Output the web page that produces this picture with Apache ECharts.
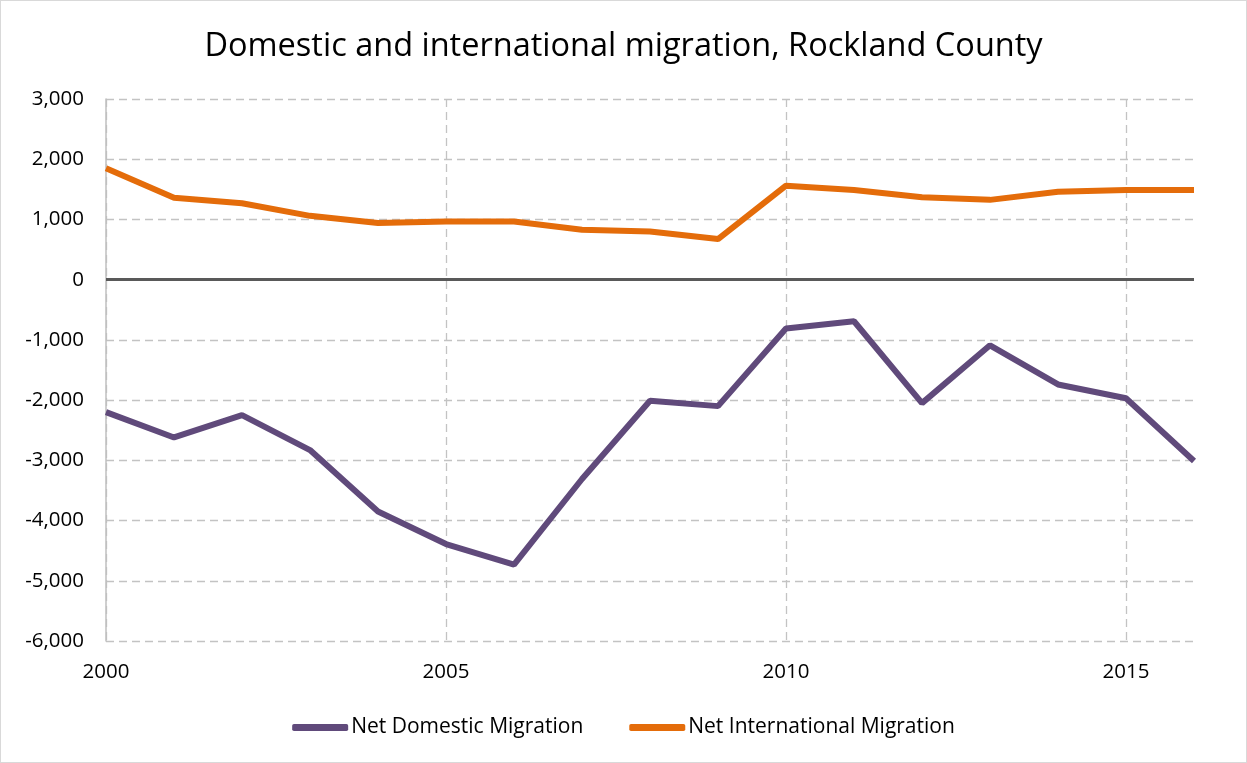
<!DOCTYPE html>
<html>
<head>
<meta charset="utf-8">
<script src="https://cdn.jsdelivr.net/npm/echarts@6/dist/echarts.min.js"></script>
<style>
  html, body { margin: 0; padding: 0; background: #fff; }
  #chart { width: 1245px; height: 761px; border: 1px solid #d9d9d9; }
</style>
</head>
<body>
<div id="chart"></div>
<script>
// 年份
const years = ["2000", "2001", "2002", "2003", "2004", "2005", "2006", "2007", "2008",
  "2009", "2010", "2011", "2012", "2013", "2014", "2015", "2016"];
// Net Domestic Migration
const domestic = [-2200, -2620, -2250, -2830, -3850, -4390, -4730, -3310, -2010,
  -2100, -810, -690, -2050, -1090, -1740, -1970, -3010];
// Net International Migration
const international = [1850, 1360, 1270, 1060, 940, 965, 965, 830, 800,
  675, 1560, 1490, 1370, 1325, 1460, 1490, 1490];

const font = "Open Sans";
const mychart = echarts.init(document.getElementById("chart"));
const option = {
  animation: false,
  title: {
    text: "Domestic and international migration, Rockland County",
    left: "center",
    top: 24,
    textStyle: { fontFamily: font, fontSize: 32.5, fontWeight: "normal", color: "#000" },
  },
  grid: { left: 105, right: 52, top: 98, bottom: 121 },
  xAxis: {
    type: "category",
    data: years,
    boundaryGap: false,
    axisLine: { show: false },
    axisTick: { show: false },
    axisLabel: {
      interval: 4,
      margin: 21,
      fontFamily: font,
      fontSize: 20.5,
      color: "#000",
    },
    splitLine: {
      show: true,
      interval: 4,
      lineStyle: { color: "#c3c3c3", type: [8, 5], width: 1.3 },
    },
  },
  yAxis: {
    type: "value",
    min: -6000,
    max: 3000,
    interval: 1000,
    axisLine: { show: true, lineStyle: { color: "#bfbfbf", width: 1.5 } },
    axisTick: { show: false },
    axisLabel: {
      margin: 22,
      fontFamily: font,
      fontSize: 20.5,
      color: "#000",
      formatter: (v) => v.toLocaleString("en-US"),
    },
    splitLine: {
      lineStyle: { color: "#c3c3c3", type: [8, 5], width: 1.3 },
    },
  },
  legend: {
    bottom: 19,
    left: "center",
    itemWidth: 56,
    itemHeight: 7,
    itemGap: 46,
    icon: "roundRect",
    textStyle: { fontFamily: font, fontSize: 21, color: "#000", padding: [0, 0, 0, -2] },
    data: ["Net Domestic Migration", "Net International Migration"],
  },
  series: [
    {
      name: "Net Domestic Migration",
      type: "line",
      data: domestic,
      symbol: "none",
      lineStyle: { color: "#604a7b", width: 6 },
      itemStyle: { color: "#604a7b" },
      // 零线
      markLine: {
        silent: true,
        symbol: "none",
        label: { show: false },
        lineStyle: { color: "#595959", type: "solid", width: 3 },
        data: [{ yAxis: 0 }],
      },
      z: 3,
    },
    {
      name: "Net International Migration",
      type: "line",
      data: international,
      symbol: "none",
      lineStyle: { color: "#e46c0a", width: 6 },
      itemStyle: { color: "#e46c0a" },
      z: 3,
    },
  ],
};
mychart.setOption(option);
</script>
</body>
</html>
